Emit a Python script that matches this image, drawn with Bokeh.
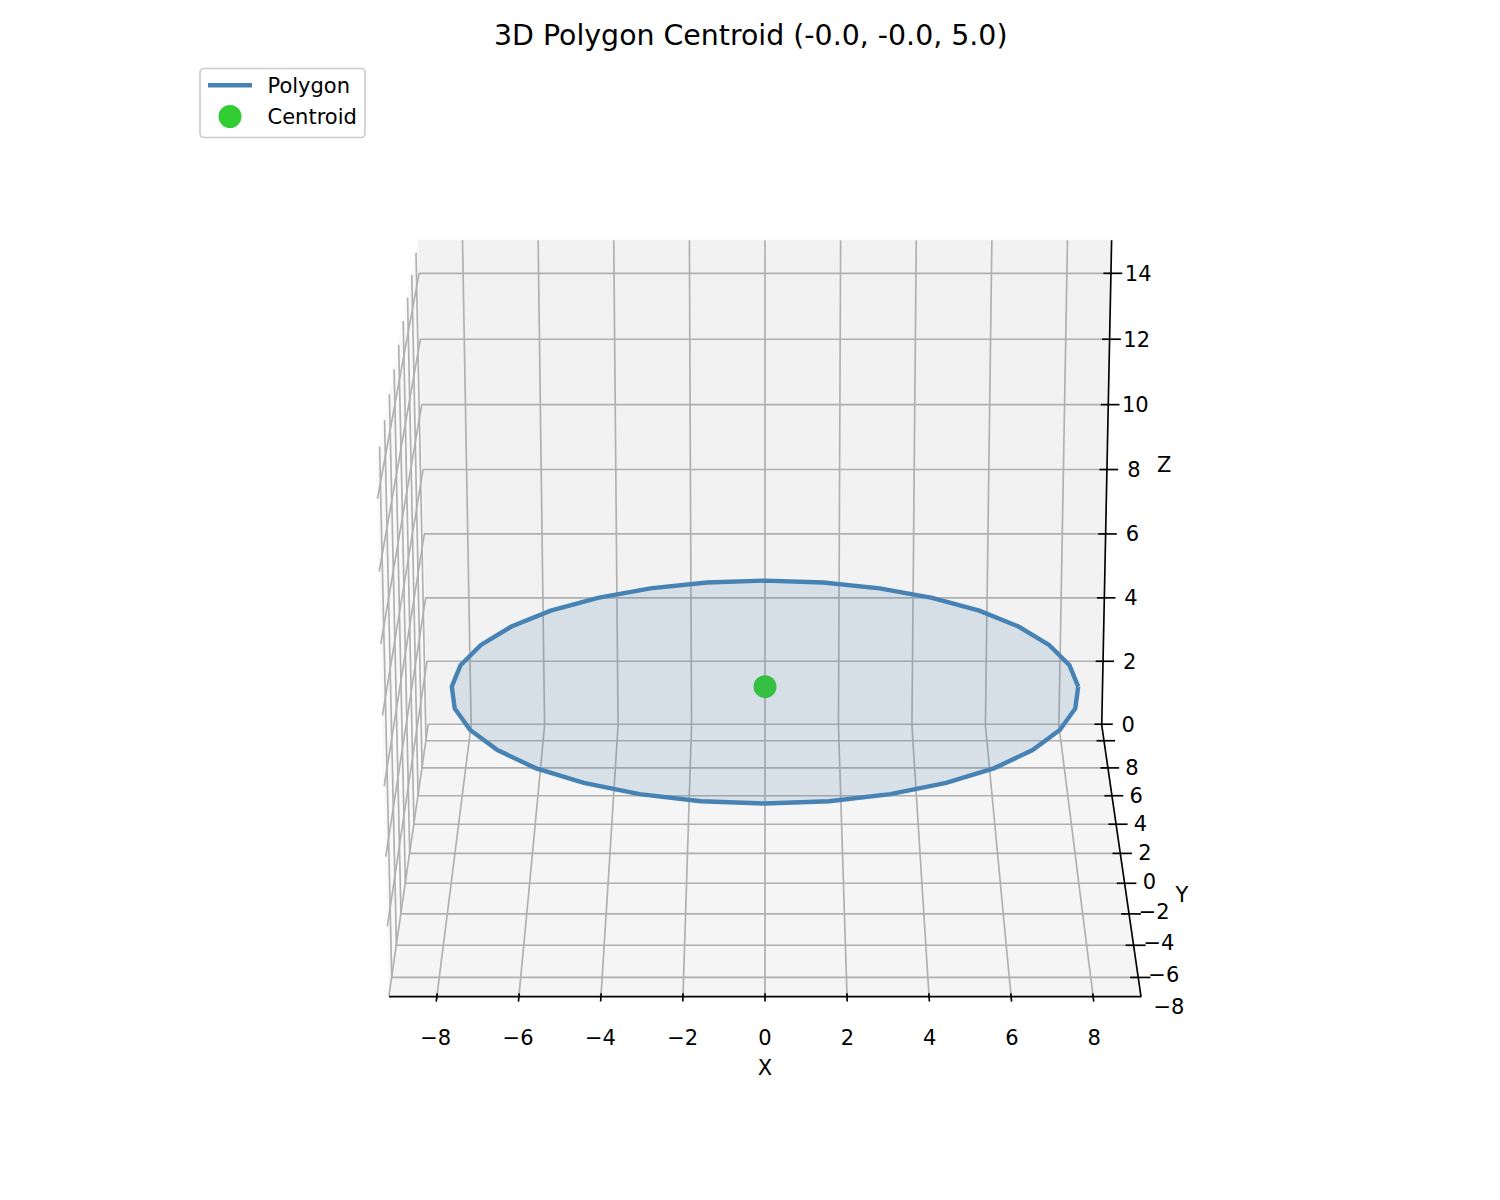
import numpy as np
from bokeh.plotting import figure
from bokeh.models import Range1d
from bokeh.core.properties import value
from bokeh.embed import file_html
from bokeh.resources import INLINE

# ---- data ----
poly_x = [8.00, 7.85, 7.39, 6.65, 5.66, 4.44, 3.06, 1.56, 0.00, -1.56, -3.06, -4.44, -5.66, -6.65, -7.39, -7.85,
          -8.00, -7.85, -7.39, -6.65, -5.66, -4.44, -3.06, -1.56, 0.00, 1.56, 3.06, 4.44, 5.66, 6.65, 7.39, 7.85, 8.00]
poly_y = [0.00, 1.56, 3.06, 4.44, 5.66, 6.65, 7.39, 7.85, 8.00, 7.85, 7.39, 6.65, 5.66, 4.44, 3.06, 1.56,
          0.00, -1.56, -3.06, -4.44, -5.66, -6.65, -7.39, -7.85, -8.00, -7.85, -7.39, -6.65, -5.66, -4.44, -3.06, -1.56, 0.00]
poly_z = [5.0] * 33
centroid = (0.0, 0.0, 5.0)

x_ticks = [-8, -6, -4, -2, 0, 2, 4, 6, 8]
y_ticks = [-8, -6, -4, -2, 0, 2, 4, 6, 8]
z_ticks = [0, 2, 4, 6, 8, 10, 12, 14]
x_lim = (-9.167, 9.167)
y_lim = (-9.167, 9.167)
z_lim = (-0.03, 15.0)

title_text = "3D Polygon Centroid (-0.0, -0.0, 5.0)"
FONT = value("DejaVu Sans")
BLUE = "#4682B4"
FILL = "#4a7ca8"
GREEN = "#32CD32"
GRID = "#b0b0b0"
LABEL_SIZE = "21px"

# ---- camera: elev 20, azim -90, perspective ----
ELEV = np.radians(20.0)
HALF_XY, HALF_Z, DIST, SCALE = 0.59524, 0.44643, 10.0, 6060.0
CX, CY = 764.5, 602.5


def proj(x, y, z):
    x, y, z = (np.asarray(v, dtype=float) for v in (x, y, z))
    X = x / ((x_lim[1] - x_lim[0]) / 2) * HALF_XY
    Y = (y - sum(y_lim) / 2) / ((y_lim[1] - y_lim[0]) / 2) * HALF_XY
    Z = (z - sum(z_lim) / 2) / ((z_lim[1] - z_lim[0]) / 2) * HALF_Z
    d = DIST + Y * np.cos(ELEV) - Z * np.sin(ELEV)
    return (CX + SCALE * X / d).tolist(), (CY - SCALE * (Y * np.sin(ELEV) + Z * np.cos(ELEV)) / d).tolist()


def path(points):
    xs, ys, zs = zip(*points)
    return proj(xs, ys, zs)


x0, x1 = x_lim
y0, y1 = y_lim
z0, z1 = z_lim

p = figure(width=1484, height=1184, output_backend="svg", toolbar_location=None,
           x_range=Range1d(0, 1484), y_range=Range1d(1184, 53),
           min_border_left=0, min_border_right=0, min_border_bottom=0, min_border_top=53,
           title=title_text)
p.title.align = "left"
p.title.offset = 493.5
p.title.text_font = "DejaVu Sans"
p.title.text_font_size = "28.4px"
p.title.text_font_style = "normal"
p.title.text_color = "black"
p.title.standoff = 4
p.axis.visible = False
p.grid.visible = False
p.outline_line_color = None
p.background_fill_color = "white"

# panes
panes = [
    ([(x0, y0, z0), (x0, y1, z0), (x0, y1, z1), (x0, y0, z1)], "#f9f9f9"),
    ([(x0, y1, z0), (x1, y1, z0), (x1, y1, z1), (x0, y1, z1)], "#f2f2f2"),
    ([(x0, y0, z0), (x1, y0, z0), (x1, y1, z0), (x0, y1, z0)], "#f5f5f5"),
]
for pts, col in panes:
    px, py = path(pts)
    p.patch(px, py, fill_color=col, line_color=col, line_width=1)

# grid
gx, gy = [], []
for t in x_ticks:
    a, b = path([(t, y1, z1), (t, y1, z0), (t, y0, z0)])
    gx.append(a); gy.append(b)
for t in y_ticks:
    a, b = path([(x1, t, z0), (x0, t, z0), (x0, t, z1)])
    gx.append(a); gy.append(b)
for t in z_ticks:
    a, b = path([(x1, y1, t), (x0, y1, t), (x0, y0, t)])
    gx.append(a); gy.append(b)
p.multi_line(gx, gy, line_color=GRID, line_width=1.67)

# axis lines
ax, ay = path([(x0, y0, z0), (x1, y0, z0), (x1, y1, z0), (x1, y1, z1)])
p.line(ax, ay, line_color="black", line_width=1.67)

# tick marks
IN, OUT = 0.2, 0.3
tx, ty = [], []
for t in x_ticks:
    a, b = path([(t, y0 + IN, z0), (t, y0 - OUT, z0)])
    tx.append(a); ty.append(b)
for t in y_ticks:
    a, b = path([(x1 - IN, t, z0), (x1 + OUT, t, z0)])
    tx.append(a); ty.append(b)
for t in z_ticks:
    a, b = path([(x1 - IN, y1, t), (x1 + OUT, y1, t)])
    tx.append(a); ty.append(b)
p.multi_line(tx, ty, line_color="black", line_width=1.67)


def fmt(v):
    return str(v) if v >= 0 else "\u2212" + str(-v)


def labels(px, py, texts):
    p.text(px, py, text=texts, text_font=FONT, text_font_size=LABEL_SIZE, text_color="black",
           text_align="center", text_baseline="middle")


# tick labels
px, py = proj(x_ticks, [y0 - 0.8] * len(x_ticks), [z0 - 0.79] * len(x_ticks))
labels(px, py, [fmt(v) for v in x_ticks])
px, py = proj([x1 + 0.77] * len(y_ticks), y_ticks, [z0 - 0.85] * len(y_ticks))
labels(px, py, [fmt(v) for v in y_ticks])
px, py = proj([x1 + 0.72] * len(z_ticks), [y1] * len(z_ticks), [v + 0.02 for v in z_ticks])
labels(px, py, [fmt(v) for v in z_ticks])

# axis titles
px, py = proj([0, x1 + 1.62, x1 + 1.53], [y0, 0, y1], [z0 - 2.08, z0 - 1.27, 8.13])
labels(px, py, ["X", "Y", "Z"])

# centroid first: the translucent polygon lies over it in the reference
cx_, cy_ = proj([centroid[0]], [centroid[1]], [centroid[2]])
p.scatter(cx_, cy_, marker="circle", size=23, fill_color=GREEN, line_color=GREEN, line_width=0)
px, py = proj(poly_x, poly_y, poly_z)
p.patch(px, py, fill_color=FILL, fill_alpha=0.16, line_color=None)
p.line(px, py, line_color=BLUE, line_width=4.4, line_join="miter")

# legend
p.quad(left=[199.5], right=[364.5], top=[68], bottom=[137], fill_color="white", fill_alpha=0.8,
       line_color="#cccccc", line_width=1.67, border_radius=4)
p.line([207.5, 251.5], [84.7, 84.7], line_color=BLUE, line_width=4.4)
p.scatter([229.5], [116], marker="circle", size=23, fill_color=GREEN, line_width=0)
p.text([267, 267], [85, 116], text=["Polygon", "Centroid"], text_font=FONT, text_font_size=LABEL_SIZE,
       text_color="black", text_align="left", text_baseline="middle")

open("out.html", "w").write(file_html(p, INLINE))
